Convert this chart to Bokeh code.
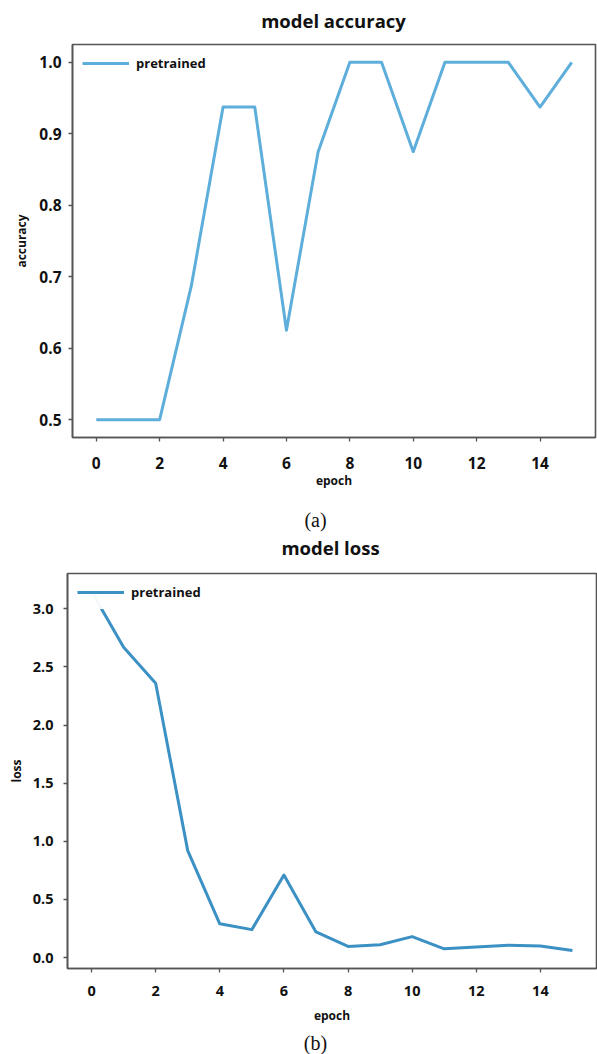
from bokeh.plotting import figure
from bokeh.layouts import column
from bokeh.models import Range1d, FixedTicker, PrintfTickFormatter, Legend, LegendItem, Label
from bokeh.embed import file_html
from bokeh.resources import INLINE

# ---- data ----
epochs = list(range(16))
accuracy = [0.5, 0.5, 0.5, 0.6875, 0.9375, 0.9375, 0.625, 0.875,
            1.0, 1.0, 0.875, 1.0, 1.0, 1.0, 0.9375, 1.0]
loss = [3.15, 2.67, 2.36, 0.92, 0.29, 0.24, 0.71, 0.22,
        0.095, 0.11, 0.18, 0.075, 0.09, 0.105, 0.10, 0.06]
x_ticks = [0, 2, 4, 6, 8, 10, 12, 14]
acc_ticks = [0.5, 0.6, 0.7, 0.8, 0.9, 1.0]
loss_ticks = [0.0, 0.5, 1.0, 1.5, 2.0, 2.5, 3.0]
series_label = "pretrained"
titles = ["model accuracy", "model loss"]
captions = ["(a)", "(b)"]

SANS = "Open Sans"
SERIF = "Liberation Serif"
INK = "#111111"
FRAME = "#555555"
W = 597


def padded(vals, frac=0.05):
    lo, hi = min(vals), max(vals)
    d = (hi - lo) * frac
    return lo - d, hi + d


def text_strip(height, left, right, items):
    """A bare strip (no axes) that only carries titles / captions."""
    s = figure(width=W, height=height, output_backend="svg", toolbar_location=None,
               x_range=Range1d(0, 1), y_range=Range1d(0, 1),
               x_axis_type=None, y_axis_type=None,
               min_border_left=left, min_border_right=right,
               min_border_top=0, min_border_bottom=0)
    s.grid.visible = False
    s.outline_line_color = None
    s.background_fill_color = "white"
    s.border_fill_color = "white"
    for txt, x, y, font, size, style in items:
        s.add_layout(Label(x=x - left, y=height - y, x_units="screen", y_units="screen",
                           text=txt, text_align="center", text_baseline="middle",
                           text_font=font, text_font_size=size, text_font_style=style,
                           text_color=INK))
    return s


def make_chart(ylabel, yvals, yticks, color, height, mb_left, mb_right, mb_bottom,
               tick_font, xl_standoff, xal_standoff, yl_standoff, yal_standoff):
    x0, x1 = padded(epochs)
    y0, y1 = padded(yvals)
    p = figure(width=W, height=height, output_backend="svg", toolbar_location=None,
               x_range=Range1d(x0, x1), y_range=Range1d(y0, y1),
               min_border_left=mb_left, min_border_right=mb_right,
               min_border_top=2, min_border_bottom=mb_bottom)
    p.background_fill_color = "white"
    p.border_fill_color = "white"
    p.grid.visible = False
    p.outline_line_color = FRAME
    p.outline_line_width = 1.6

    r = p.line(epochs, yvals, line_color=color, line_width=3, line_join="round")

    p.xaxis.ticker = FixedTicker(ticks=x_ticks)
    p.yaxis.ticker = FixedTicker(ticks=yticks)
    p.yaxis.formatter = PrintfTickFormatter(format="%.1f")
    for ax in (p.xaxis, p.yaxis):
        ax.axis_line_color = FRAME
        ax.axis_line_width = 1.6
        ax.major_tick_line_color = FRAME
        ax.major_tick_line_width = 1.3
        ax.major_tick_out = 4
        ax.major_tick_in = 0
        ax.minor_tick_line_color = None
        ax.major_label_text_font = SANS
        ax.major_label_text_font_style = "bold"
        ax.major_label_text_font_size = tick_font
        ax.major_label_text_color = INK
        ax.axis_label_text_font = SANS
        ax.axis_label_text_font_style = "bold"
        ax.axis_label_text_font_size = "12px"
        ax.axis_label_text_color = INK
    p.xaxis.axis_label = "epoch"
    p.yaxis.axis_label = ylabel
    p.xaxis.major_label_standoff = xl_standoff
    p.xaxis.axis_label_standoff = xal_standoff
    p.yaxis.major_label_standoff = yl_standoff
    p.yaxis.axis_label_standoff = yal_standoff

    legend = Legend(items=[LegendItem(label=series_label, renderers=[r])],
                    location="top_left")
    legend.glyph_width = 47
    legend.glyph_height = 18
    legend.label_text_font = SANS
    legend.label_text_font_style = "bold"
    legend.label_text_font_size = "13px"
    legend.label_text_color = INK
    legend.border_line_alpha = 0
    legend.background_fill_color = "white"
    legend.background_fill_alpha = 0.95
    legend.margin = 2
    legend.padding = 8
    legend.label_standoff = 7
    p.add_layout(legend)
    return p


top = text_strip(42, 72, 2, [(titles[0], 333, 20, SANS, "18.5px", "bold")])
pa = make_chart("accuracy", accuracy, acc_ticks, "#5eaedb", height=458,
                mb_left=72, mb_right=2, mb_bottom=63, tick_font="15.5px",
                xl_standoff=15, xal_standoff=0, yl_standoff=7, yal_standoff=6)
mid = text_strip(71, 72, 2, [(captions[0], 315, 19, SERIF, "20px", "normal"),
                             (titles[1], 330, 47, SANS, "18.5px", "bold")])
pb = make_chart("loss", loss, loss_ticks, "#3b90c4", height=459,
                mb_left=67, mb_right=1, mb_bottom=62, tick_font="14.5px",
                xl_standoff=13, xal_standoff=8, yl_standoff=10, yal_standoff=5)
bot = text_strip(24, 67, 1, [(captions[1], 315, 12, SERIF, "20px", "normal")])

layout = column(column(top, pa, mid, spacing=0), column(pb, bot, spacing=0), spacing=0)
open("out.html", "w").write(file_html(layout, INLINE))
